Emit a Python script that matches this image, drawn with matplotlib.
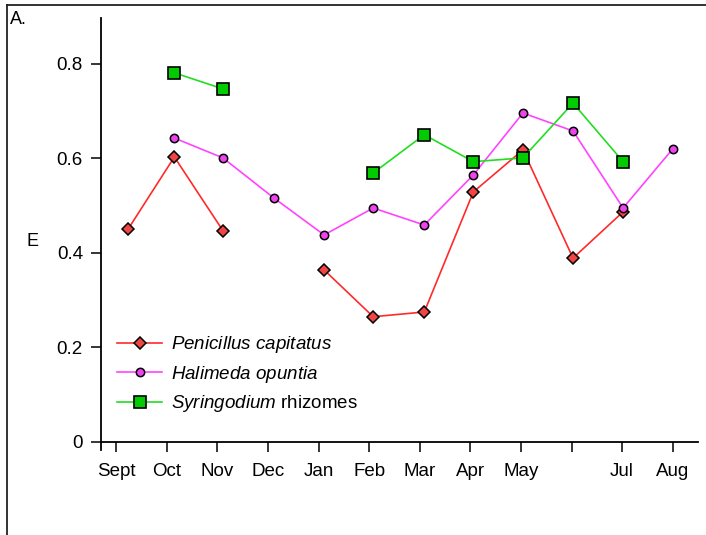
import numpy as np
import matplotlib
matplotlib.use("Agg")
import matplotlib.pyplot as plt
from matplotlib.lines import Line2D

plt.rcParams['font.family'] = ['Liberation Sans', 'DejaVu Sans']
plt.rcParams['mathtext.fontset'] = 'custom'
plt.rcParams['mathtext.it'] = 'Liberation Sans:italic'
plt.rcParams['mathtext.rm'] = 'Liberation Sans'

# month tick positions (months since September) and labels
month_ticks = [0, 1, 2, 3, 4, 5, 6, 7, 8, 9, 10, 11]
month_labels = ['Sept', 'Oct', 'Nov', 'Dec', 'Jan', 'Feb', 'Mar', 'Apr', 'May', '', 'Jul', 'Aug']
e_ticks = [0, 0.2, 0.4, 0.6, 0.8]
e_labels = ['0', '0.2', '0.4', '0.6', '0.8']

# sampling positions (months since September)
sample_x = [0.24, 1.15, 2.11, 3.12, 4.11, 5.08, 6.09, 7.06, 8.04, 9.03, 10.02, 11.0]

nan = np.nan
penicillus = [0.451, 0.603, 0.447, nan, 0.364, 0.265, 0.275, 0.529, 0.618, 0.389, 0.487, nan]
halimeda = [nan, 0.643, 0.601, 0.516, 0.438, 0.495, 0.459, 0.565, 0.696, 0.658, 0.495, 0.620]
syringodium = [nan, 0.781, 0.747, nan, nan, 0.569, 0.650, 0.593, 0.601, 0.717, 0.593, nan]


def main():
    fig = plt.figure(figsize=(7.06, 5.35), dpi=100)
    ax = fig.add_axes([101 / 706, 85 / 535, 597 / 706, 432 / 535])

    ax.plot(sample_x, penicillus, color='#ff2a2a', lw=1.2, marker='D', ms=6.2,
            mfc='#f04545', mec='black', mew=1.1, label='$\\it{Penicillus\\ capitatus}$')
    ax.plot(sample_x, halimeda, color='#ff44ff', lw=1.2, marker='o', ms=6,
            mfc='#ee44ee', mec='black', mew=1.1, label='$\\it{Halimeda\\ opuntia}$')
    ax.plot(sample_x, syringodium, color='#22dd22', lw=1.2, marker='s', ms=9,
            mfc='#00cc00', mec='black', mew=1.2, label='$\\it{Syringodium}$ rhizomes')

    ax.set_xlim(-0.30, 11.50)
    ax.set_ylim(-0.017, 0.897)
    ax.spines['top'].set_visible(False)
    ax.spines['right'].set_visible(False)
    ax.spines['bottom'].set_position(('data', 0))
    ax.spines['left'].set_linewidth(1.3)
    ax.spines['bottom'].set_linewidth(1.3)

    ax.set_xticks(month_ticks)
    ax.set_xticklabels(month_labels)
    ax.set_yticks(e_ticks)
    ax.set_yticklabels(e_labels)
    ax.tick_params(axis='x', direction='out', length=7, width=1.1, labelsize=13.5, pad=8)
    ax.tick_params(axis='y', direction='out', length=7, width=1.1, labelsize=13.5, pad=6)

    ax.legend(loc='upper left', bbox_to_anchor=(0.027, 0.268), frameon=False,
              fontsize=13.5, borderpad=0, borderaxespad=0, handlelength=2.4,
              handletextpad=0.45, labelspacing=0.45)

    fig.text(10 / 706, 1 - 20 / 535, 'A.', fontsize=13, va='center', ha='left')
    fig.text(33 / 706, 1 - 242 / 535, 'E', fontsize=13, va='center', ha='center')

    # outer frame (left and top edges)
    fig.add_artist(Line2D([7 / 706, 7 / 706], [0, 1 - 5 / 535], transform=fig.transFigure,
                          color='#222222', lw=1.3))
    fig.add_artist(Line2D([7 / 706, 1], [1 - 5 / 535, 1 - 5 / 535], transform=fig.transFigure,
                          color='#222222', lw=1.3))

    fig.savefig('out.png', dpi=100)
    plt.close(fig)


if __name__ == "__main__":
    main()
